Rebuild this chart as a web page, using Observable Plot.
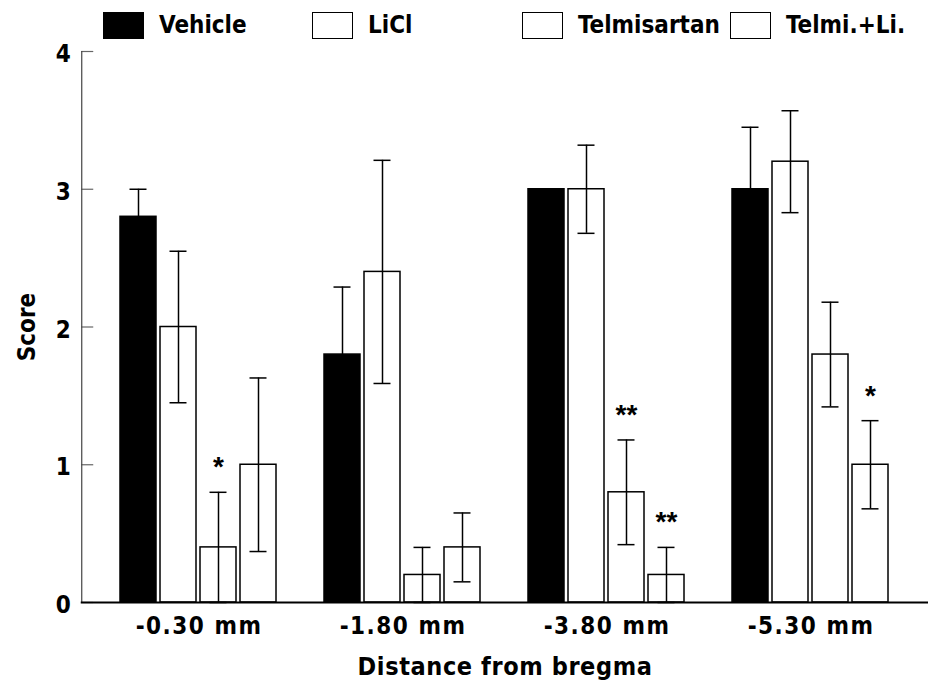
<!DOCTYPE html>
<html>
<head>
<meta charset="utf-8">
<script src="https://cdn.jsdelivr.net/npm/d3@7"></script>
<script src="https://cdn.jsdelivr.net/npm/@observablehq/plot@0.6"></script>
<style>
  html, body { margin: 0; padding: 0; background: #fff; }
  #wrap { position: relative; width: 928px; height: 684px; font-family: "DejaVu Sans Condensed", "Liberation Sans", Arial, sans-serif; font-weight: bold; }
  .leg { position: absolute; top: 12px; display: flex; align-items: center; height: 27px; }
  .sw { width: 39px; height: 25px; border: 1.5px solid #000; background: #fff; box-sizing: content-box; }
  .lab { font-size: 24px; letter-spacing: 0px; margin-left: 15px; line-height: 27px; }
  g[aria-label="fx-axis tick label"] text { letter-spacing: 1.5px; font-size: 24px; }
  g[aria-label="fx-axis label"] text { letter-spacing: 0.6px; font-size: 25px; }
  g[aria-label="y-axis label"] text { font-size: 24px; }
  g[aria-label="text"] text { font-family: "Liberation Sans", Arial, sans-serif; }
</style>
</head>
<body>
<div id="wrap"></div>
<script>
const groups = ["-0.30 mm", "-1.80 mm", "-3.80 mm", "-5.30 mm"];
const treatments = ["Vehicle", "LiCl", "Telmisartan", "Telmi.+Li."];
const fills = ["#000", "#fff", "#fff", "#fff"];

const vehicleMean = [2.8, 1.8, 3.0, 3.0];
const vehicleSem  = [0.2, 0.49, 0, 0.45];
const liclMean    = [2.0, 2.4, 3.0, 3.2];
const liclSem     = [0.55, 0.81, 0.32, 0.37];
const telmiMean   = [0.4, 0.2, 0.8, 1.8];
const telmiSem    = [0.4, 0.2, 0.38, 0.38];
const comboMean   = [1.0, 0.4, 0.2, 1.0];
const comboSem    = [0.63, 0.25, 0.2, 0.32];
const telmiSig    = ["*", "", "**", ""];
const comboSig    = ["", "", "**", "*"];
const yTicks = [0, 1, 2, 3, 4];

const means = [vehicleMean, liclMean, telmiMean, comboMean];
const sems = [vehicleSem, liclSem, telmiSem, comboSem];
const sigs = [["", "", "", ""], ["", "", "", ""], telmiSig, comboSig];

const rows = [];
groups.forEach((g, i) => {
  treatments.forEach((t, j) => {
    rows.push({group: g, treatment: t, mean: means[j][i], sem: sems[j][i], sig: sigs[j][i]});
  });
});
const errRows = rows.filter(d => d.sem > 0);
const sigRows = rows.filter(d => d.sig);

// offset of the first facet from the left frame edge (paddingOuter * step)
const W = 928, ML = 81, MR = 0, PI = 0.22, PO = 0.185;
const step = (W - ML - MR) / (groups.length - PI + 2 * PO);
const pad = PO * step;

const chart = Plot.plot({
  width: W,
  height: 684,
  marginTop: 51,
  marginBottom: 82,
  marginLeft: ML,
  marginRight: MR,
  style: {fontFamily: "'DejaVu Sans Condensed', 'Liberation Sans', Arial, sans-serif", fontWeight: "bold", fontSize: "24px", color: "#000", background: "#fff"},
  fx: {domain: groups, paddingInner: PI, paddingOuter: PO, label: null},
  x: {domain: treatments, paddingInner: 0.09, paddingOuter: 0, axis: null},
  y: {domain: [0, 4], axis: null},
  color: {domain: treatments, range: fills},
  marks: [
    Plot.barY(rows, {fx: "group", x: "treatment", y: "mean", fill: "treatment", stroke: "#000", strokeWidth: 1.5}),
    Plot.ruleX(errRows, {fx: "group", x: "treatment", y1: d => d.mean - d.sem, y2: d => d.mean + d.sem, stroke: "#000", strokeWidth: 1.5}),
    Plot.tickY(errRows, {fx: "group", x: "treatment", y: d => d.mean + d.sem, stroke: "#000", strokeWidth: 1.5, insetLeft: 9.5, insetRight: 9.5}),
    Plot.tickY(errRows, {fx: "group", x: "treatment", y: d => d.mean - d.sem, stroke: "#000", strokeWidth: 1.5, insetLeft: 9.5, insetRight: 9.5}),
    Plot.text(sigRows, {fx: "group", x: "treatment", y: d => d.mean + d.sem, text: "sig", dy: -25, fontSize: 28, fontWeight: "bold", fill: "#000"}),
    Plot.axisFx({anchor: "bottom", tickSize: 0, tickPadding: 14, fontSize: 24, label: "Distance from bregma", labelAnchor: "center", labelOffset: 72}),
    Plot.axisY({ticks: yTicks, tickSize: -12, tickFormat: () => "", stroke: "#666", strokeWidth: 1.2, label: null, dx: -pad}),
    Plot.axisY({ticks: yTicks, tickSize: 0, tickPadding: 11, tickFormat: "d", fontSize: 24, dx: -pad, dy: 3, label: "Score", labelAnchor: "center", labelArrow: "none", labelOffset: 64 + pad}),
    Plot.frame({anchor: "left", facet: "super", stroke: "#444", strokeWidth: 1.2, dx: -pad}),
    Plot.frame({anchor: "bottom", facet: "super", stroke: "#000", strokeWidth: 2, insetLeft: -pad, insetRight: -pad})
  ]
});

const wrap = document.getElementById("wrap");
wrap.appendChild(chart);

const legPos = [103, 312, 522, 730];
treatments.forEach((t, i) => {
  const item = document.createElement("div");
  item.className = "leg";
  item.style.left = legPos[i] + "px";
  const sw = document.createElement("div");
  sw.className = "sw";
  sw.style.background = fills[i];
  const lab = document.createElement("span");
  lab.className = "lab";
  lab.textContent = t;
  item.appendChild(sw);
  item.appendChild(lab);
  wrap.appendChild(item);
});
</script>
</body>
</html>
